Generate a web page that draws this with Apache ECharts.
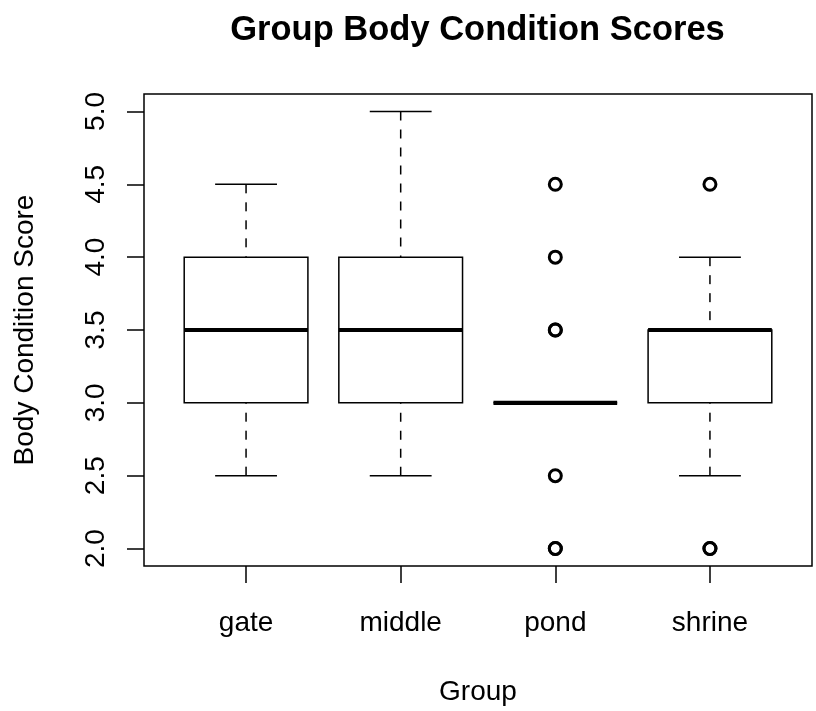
<!DOCTYPE html>
<html><head><meta charset="utf-8">
<script src="https://cdn.jsdelivr.net/npm/echarts@6/dist/echarts.min.js"></script>
<style>html,body{margin:0;padding:0;background:#fff}#c{width:816px;height:711px}</style>
</head><body><div id="c"></div>
<script>
const groups = ['gate', 'middle', 'pond', 'shrine'];
const whiskerLow = [2.5, 2.5, 3.0, 2.5];
const q1 = [3.0, 3.0, 3.0, 3.0];
const medians = [3.5, 3.5, 3.0, 3.5];
const q3 = [4.0, 4.0, 3.0, 3.5];
const whiskerHigh = [4.5, 5.0, 3.0, 4.0];
const pondOutliers = [2.0, 2.0, 2.5, 3.5, 3.5, 4.0, 4.5];
const shrineOutliers = [2.0, 2.0, 4.5];
const yTicks = [2.0, 2.5, 3.0, 3.5, 4.0, 4.5, 5.0];
const xTicks = [1, 2, 3, 4];

const FONT = '"Liberation Sans", Arial, Helvetica, sans-serif';

const boxData = groups.map((g, i) => [i + 1, whiskerLow[i], q1[i], medians[i], q3[i], whiskerHigh[i]]);
const outlierData = []
  .concat(pondOutliers.map(v => [3, v]))
  .concat(shrineOutliers.map(v => [4, v]));

function renderBox(params, api) {
  const x = api.value(0);
  const lo = api.coord([x, api.value(1)]);
  const b1 = api.coord([x, api.value(2)]);
  const md = api.coord([x, api.value(3)]);
  const b3 = api.coord([x, api.value(4)]);
  const hi = api.coord([x, api.value(5)]);
  const half = api.size([0.4, 0])[0];
  const staple = half / 2;
  const cx = lo[0];
  const thin = { stroke: '#000', lineWidth: 1.5, fill: null };
  const dashed = { stroke: '#000', lineWidth: 1.5, lineDash: [9, 9], fill: null };
  return {
    type: 'group',
    children: [
      { type: 'line', shape: { x1: cx, y1: lo[1], x2: cx, y2: b1[1] }, style: dashed },
      { type: 'line', shape: { x1: cx, y1: hi[1], x2: cx, y2: b3[1] }, style: dashed },
      { type: 'line', shape: { x1: cx - staple, y1: lo[1], x2: cx + staple, y2: lo[1] }, style: thin },
      { type: 'line', shape: { x1: cx - staple, y1: hi[1], x2: cx + staple, y2: hi[1] }, style: thin },
      { type: 'rect', shape: { x: cx - half, y: b3[1], width: 2 * half, height: b1[1] - b3[1] }, style: { stroke: '#000', lineWidth: 1.5, fill: '#fff' } },
      { type: 'line', shape: { x1: cx - half, y1: md[1], x2: cx + half, y2: md[1] }, style: { stroke: '#000', lineWidth: 4.2, lineCap: 'butt' } }
    ]
  };
}

const chart = echarts.init(document.getElementById('c'), null, { renderer: 'canvas' });
chart.setOption({
  backgroundColor: '#fff',
  animation: false,
  title: {
    text: 'Group Body Condition Scores',
    left: 472.5,
    top: 8,
    textAlign: 'center',
    textStyle: { fontFamily: FONT, fontSize: 34.5, fontWeight: 'bold', color: '#000' }
  },
  grid: {
    left: 144, top: 94, width: 668, height: 472.5,
    show: true, borderColor: '#000', borderWidth: 1.5, backgroundColor: 'transparent',
    containLabel: false
  },
  xAxis: {
    type: 'value', min: 0.34, max: 4.66,
    axisLine: { show: false },
    splitLine: { show: false },
    axisTick: { show: true, length: 17, customValues: xTicks, lineStyle: { color: '#000', width: 1.5 } },
    axisLabel: {
      customValues: xTicks, margin: 43,
      formatter: v => groups[Math.round(v) - 1] || '',
      fontFamily: FONT, fontSize: 28, color: '#000'
    },
    name: 'Group', nameLocation: 'middle', nameGap: 112,
    nameTextStyle: { fontFamily: FONT, fontSize: 28, color: '#000' }
  },
  yAxis: {
    type: 'value', min: 1.88, max: 5.12,
    axisLine: { show: false },
    splitLine: { show: false },
    axisTick: { show: true, length: 17, customValues: yTicks, lineStyle: { color: '#000', width: 1.5 } },
    axisLabel: {
      customValues: yTicks, margin: 34, rotate: 90,
      formatter: v => Number(v).toFixed(1),
      fontFamily: FONT, fontSize: 28, color: '#000'
    },
    name: 'Body Condition Score', nameLocation: 'middle', nameGap: 105, nameRotate: 90,
    nameTextStyle: { fontFamily: FONT, fontSize: 28, color: '#000' }
  },
  series: [
    {
      type: 'custom',
      renderItem: renderBox,
      data: boxData,
      encode: { x: 0, y: [1, 2, 3, 4, 5] },
      z: 2
    },
    {
      type: 'scatter',
      data: outlierData,
      symbol: 'circle',
      symbolSize: 12,
      itemStyle: { color: 'rgba(0,0,0,0)', borderColor: '#000', borderWidth: 3, opacity: 1 },
      z: 3
    }
  ]
});
</script>
</body></html>
